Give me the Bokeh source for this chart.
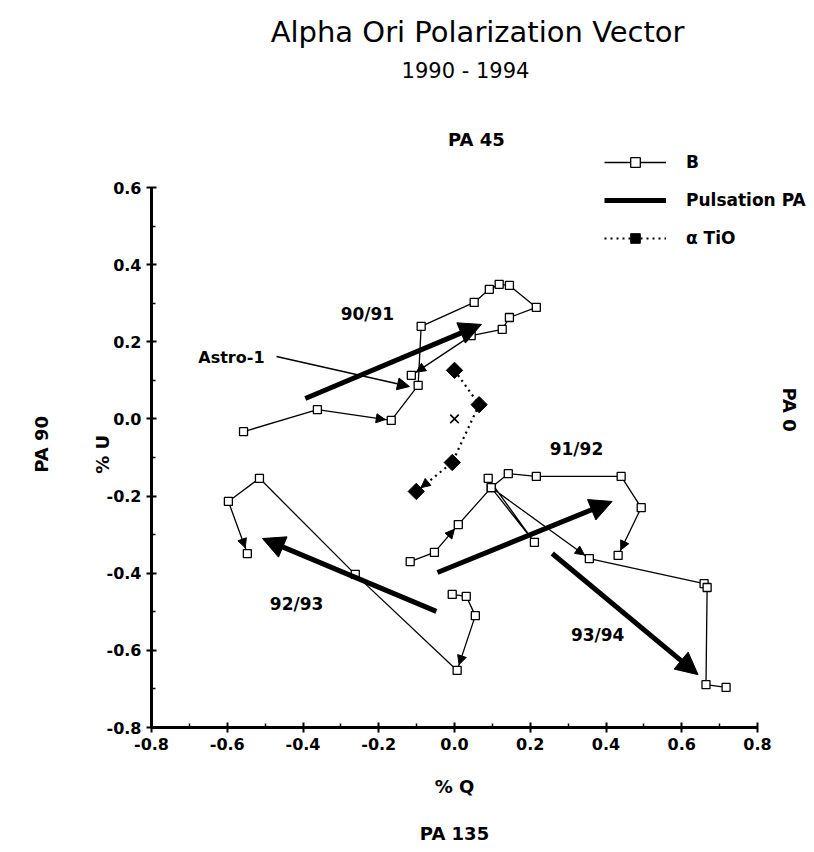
import numpy as np
from bokeh.plotting import figure
from bokeh.models import (Range1d, FixedTicker, Label, Arrow, NormalHead,
                          ColumnDataSource, Legend, LegendItem)
from bokeh.embed import file_html
from bokeh.resources import INLINE

# ---------------- data ----------------
SEASON_LABELS = ["90/91", "91/92", "92/93", "93/94"]

Q_9091 = [-0.557, -0.362, -0.167, -0.096, -0.088, 0.052, 0.092, 0.118, 0.145, 0.216, 0.145, 0.126, 0.044, -0.114]
U_9091 = [-0.033, 0.024, -0.004, 0.087, 0.240, 0.302, 0.336, 0.349, 0.346, 0.289, 0.263, 0.232, 0.216, 0.113]

Q_9192 = [-0.117, -0.053, 0.010, 0.097, 0.142, 0.216, 0.440, 0.493, 0.432]
U_9192 = [-0.370, -0.346, -0.274, -0.178, -0.142, -0.149, -0.149, -0.230, -0.354]

Q_9293 = [-0.006, 0.031, 0.055, 0.007, -0.262, -0.515, -0.597, -0.547]
U_9293 = [-0.455, -0.460, -0.510, -0.652, -0.403, -0.154, -0.214, -0.349]

Q_9394 = [0.089, 0.211, 0.097, 0.356, 0.659, 0.667, 0.664, 0.717]
U_9394 = [-0.154, -0.320, -0.178, -0.362, -0.427, -0.437, -0.689, -0.696]

# index of the point that each small direction arrow leads into
ARROW_INTO_9091 = [2, 13]
ARROW_INTO_9192 = [2, 8]
ARROW_INTO_9293 = [3, 7]
ARROW_INTO_9394 = [3]

TIO_Q = [0.000, 0.065, -0.006, -0.101]
TIO_U = [0.126, 0.037, -0.113, -0.188]
ARROW_INTO_TIO = [3]

CENTER_Q = [0.0]
CENTER_U = [0.0]

# pulsation position-angle vectors (one per season)
PULSE_Q0 = [-0.394, -0.045, -0.048, 0.258]
PULSE_U0 = [0.053, -0.398, -0.499, -0.349]
PULSE_Q1 = [0.071, 0.416, -0.507, 0.643]
PULSE_U1 = [0.245, -0.214, -0.310, -0.663]

ASTRO_Q = [-0.470, -0.119]
ASTRO_U = [0.162, 0.084]

X_TICKS = [-0.8, -0.6, -0.4, -0.2, 0.0, 0.2, 0.4, 0.6, 0.8]
X_TICK_LABELS = ["-0.8", "-0.6", "-0.4", "-0.2", "0.0", "0.2", "0.4", "0.6", "0.8"]
X_MINOR = [-0.7, -0.5, -0.3, -0.1, 0.1, 0.3, 0.5, 0.7]
Y_TICKS = [-0.8, -0.6, -0.4, -0.2, 0.0, 0.2, 0.4, 0.6]
Y_TICK_LABELS = ["-0.8", "-0.6", "-0.4", "-0.2", "0.0", "0.2", "0.4", "0.6"]
Y_MINOR = [-0.7, -0.5, -0.3, -0.1, 0.1, 0.3, 0.5]

# ---------------- layout: the frame spans the whole figure ----------------
FONT = "DejaVu Sans"
W, H = 806, 844
AX_LEFT_PX, AX_RIGHT_PX = 151, 757      # screen x of Q = -0.8 and Q = 0.8
AX_TOP_PX, AX_BOTTOM_PX = 187, 727      # screen y of U = 0.6 and U = -0.8
QMIN, QMAX = X_TICKS[0], X_TICKS[-1]
UMIN, UMAX = Y_TICKS[0], Y_TICKS[-1]
sx = (AX_RIGHT_PX - AX_LEFT_PX) / (QMAX - QMIN)
sy = (AX_BOTTOM_PX - AX_TOP_PX) / (UMAX - UMIN)
x_range = Range1d(QMIN - AX_LEFT_PX / sx, QMIN + (W - AX_LEFT_PX) / sx)
y_range = Range1d(UMAX - (H - AX_TOP_PX) / sy, UMAX + AX_TOP_PX / sy)

p = figure(width=W, height=H, x_range=x_range, y_range=y_range,
           output_backend="svg", toolbar_location=None, min_border=0)
p.grid.visible = False
p.outline_line_color = None
p.background_fill_color = "white"
p.border_fill_color = "white"

p.xaxis.fixed_location = UMIN
p.xaxis.bounds = (QMIN, QMAX)
p.yaxis.fixed_location = QMIN
p.yaxis.bounds = (UMIN, UMAX)

for ax, ticks, labels, minor in ((p.xaxis, X_TICKS, X_TICK_LABELS, X_MINOR),
                                 (p.yaxis, Y_TICKS, Y_TICK_LABELS, Y_MINOR)):
    ax.ticker = FixedTicker(ticks=ticks, minor_ticks=minor)
    ax.major_label_overrides = dict(zip(ticks, labels))
    ax.axis_line_width = 3
    ax.axis_line_color = "black"
    ax.major_tick_line_width = 2
    ax.major_tick_in = 5
    ax.major_tick_out = 5
    ax.minor_tick_line_width = 1.5
    ax.minor_tick_in = 4
    ax.minor_tick_out = 0
    ax.major_label_text_font = FONT
    ax.major_label_text_font_style = "bold"
    ax.major_label_text_font_size = "16px"
    ax.major_label_text_color = "black"
    ax.major_label_standoff = 5

# ---------------- B series ----------------
series = [(Q_9091, U_9091, ARROW_INTO_9091), (Q_9192, U_9192, ARROW_INTO_9192),
          (Q_9293, U_9293, ARROW_INTO_9293), (Q_9394, U_9394, ARROW_INTO_9394)]

b_line = b_pts = None
hx0, hy0, hx1, hy1 = [], [], [], []


def add_heads(q, u, idxs):
    for i in idxs:
        a = np.array([q[i - 1], u[i - 1]])
        b = np.array([q[i], u[i]])
        d = (b - a) / np.linalg.norm(b - a)
        tip = b - 0.016 * d
        tail = tip - 0.02 * d
        hx0.append(tail[0]); hy0.append(tail[1])
        hx1.append(tip[0]); hy1.append(tip[1])


for q, u, idxs in series:
    rl = p.line(q, u, line_color="black", line_width=1.3)
    rs = p.scatter(q, u, marker="square", size=8, fill_color="white",
                   line_color="black", line_width=1.3)
    if b_line is None:
        b_line, b_pts = rl, rs
    add_heads(q, u, idxs)

# ---------------- alpha TiO ----------------
t_line = p.line(TIO_Q, TIO_U, line_color="black", line_width=2.2, line_dash="2 4")
t_pts = p.scatter(TIO_Q, TIO_U, marker="square", angle=np.pi / 4, size=11.5,
                  fill_color="black", line_color="black")
add_heads(TIO_Q, TIO_U, ARROW_INTO_TIO)
p.scatter(CENTER_Q, CENTER_U, marker="x", size=12, line_color="black", line_width=1.6)

heads_src = ColumnDataSource(dict(x0=hx0, y0=hy0, x1=hx1, y1=hy1))
p.add_layout(Arrow(source=heads_src, x_start="x0", y_start="y0", x_end="x1", y_end="y1",
                   line_alpha=0, line_width=1,
                   end=NormalHead(size=9, fill_color="black", line_color="black")))

# ---------------- pulsation PA arrows ----------------
pq0, pu0 = np.array(PULSE_Q0), np.array(PULSE_U0)
pq1, pu1 = np.array(PULSE_Q1), np.array(PULSE_U1)
plen = np.hypot(pq1 - pq0, pu1 - pu0)
shaft_q1 = pq1 - 0.025 * (pq1 - pq0) / plen
shaft_u1 = pu1 - 0.025 * (pu1 - pu0) / plen
pulse_shafts = p.segment(x0=pq0, y0=pu0, x1=shaft_q1, y1=shaft_u1,
                         line_color="black", line_width=5)
pulse_src = ColumnDataSource(dict(x0=PULSE_Q0, y0=PULSE_U0, x1=PULSE_Q1, y1=PULSE_U1))
p.add_layout(Arrow(source=pulse_src, x_start="x0", y_start="y0", x_end="x1", y_end="y1",
                   line_alpha=0, line_width=1,
                   end=NormalHead(size=22, fill_color="black", line_color="black")))

# Astro-1 pointer
p.add_layout(Arrow(x_start=ASTRO_Q[0], y_start=ASTRO_U[0], x_end=ASTRO_Q[1], y_end=ASTRO_U[1],
                   line_width=1.6, line_color="black",
                   end=NormalHead(size=12, fill_color="black", line_color="black")))

# ---------------- legend ----------------
legend = Legend(items=[LegendItem(label="B", renderers=[b_line, b_pts]),
                       LegendItem(label="Pulsation PA", renderers=[pulse_shafts]),
                       LegendItem(label="\u03b1 TiO", renderers=[t_line, t_pts])],
                location=(604, 594), orientation="vertical",
                glyph_width=62, glyph_height=24, label_height=24, spacing=14,
                label_standoff=20, padding=0, margin=0,
                border_line_color=None, background_fill_alpha=0,
                label_text_font=FONT, label_text_font_style="bold",
                label_text_font_size="17px", label_text_color="black")
p.add_layout(legend)

# ---------------- texts ----------------
def lab(x, y, text, size, bold=True, angle=0.0):
    p.add_layout(Label(x=x, y=y, text=text, text_font=FONT,
                       text_font_style="bold" if bold else "normal",
                       text_font_size=size, text_align="center",
                       text_baseline="middle", angle=angle, text_color="black"))

lab(0.061, 1.004, "Alpha Ori Polarization Vector", "29px", bold=False)
lab(0.029, 0.901, "1990 - 1994", "21px", bold=False)
lab(0.058, 0.724, "PA 45", "18px")
lab(0.000, -0.953, "% Q", "18px")
lab(0.000, -1.074, "PA 135", "18px")
lab(-1.090, -0.066, "PA 90", "18px", angle=np.pi / 2)
lab(0.884, 0.024, "PA 0", "18px", angle=-np.pi / 2)
lab(-0.929, -0.092, "% U", "18px", angle=np.pi / 2)

lab(-0.589, 0.159, "Astro-1", "16px")
lab(-0.230, 0.271, SEASON_LABELS[0], "17px")
lab(0.322, -0.079, SEASON_LABELS[1], "17px")
lab(-0.417, -0.481, SEASON_LABELS[2], "17px")
lab(0.378, -0.559, SEASON_LABELS[3], "17px")

open("out.html", "w").write(file_html(p, INLINE))
